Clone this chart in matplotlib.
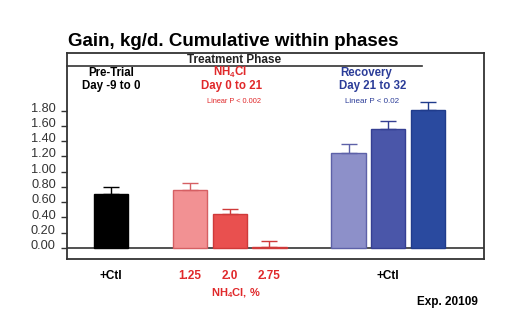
import matplotlib
matplotlib.use("Agg")
import matplotlib.pyplot as plt
from matplotlib.transforms import ScaledTranslation

plt.rcParams["font.family"] = ["Liberation Sans", "DejaVu Sans"]
plt.rcParams["mathtext.fontset"] = "custom"
plt.rcParams["mathtext.rm"] = "Liberation Sans:bold"
plt.rcParams["mathtext.bf"] = "Liberation Sans:bold"

# ── Data ──────────────────────────────────────────────────────────────────────
treatments = ["+Ctl", "1.25", "2.0", "2.75", "R1", "R2", "R3"]
gain = [0.71, 0.76, 0.44, 0.01, 1.24, 1.56, 1.81]
sem = [0.09, 0.09, 0.07, 0.08, 0.12, 0.10, 0.10]
slot = [0, 2, 3, 4, 6, 7, 8]          # bar slots, gaps between phases
yticks = [0.0, 0.2, 0.4, 0.6, 0.8, 1.0, 1.2, 1.4, 1.6, 1.8]
xlabels = ["+Ctl", "1.25", "2.0", "2.75", "+Ctl"]
xlabel_slot = [0, 2, 3, 4, 7]

# ── Colours ───────────────────────────────────────────────────────────────────
RED = "#e0282a"
BLUE = "#2b3c98"
fills = ["#000000", "#f29193", "#e9504f", "#e9504f", "#8d90c9", "#4a56a9", "#2a4a9f"]
edges = ["#000000", "#d65f63", "#cf3a3a", "#cf3a3a", "#5d61a8", "#353f93", "#203c8c"]
xlabel_colors = ["black", RED, RED, RED, "black"]

fig = plt.figure(figsize=(5.2, 3.34), dpi=100)
ax = fig.add_axes([0.1288, 0.2246, 0.802, 0.6167])

for x, g, e, fc, ec in zip(slot, gain, sem, fills, edges):
    ax.bar(x, g, width=0.87, color=fc, edgecolor=ec, linewidth=1.0, zorder=3)
    ax.errorbar(x, g, yerr=[[0], [e]], fmt="none", ecolor=ec, elinewidth=1.0,
                capsize=6, capthick=1.0, zorder=4)

ax.axhline(0, color="#333333", lw=1.2, zorder=2)
ax.set_xlim(-1.11, 9.42)
ax.set_ylim(-0.144, 2.556)

ax.set_yticks(yticks)
ax.set_yticklabels([f"{v:.2f}" for v in yticks], fontsize=9.2, color="#333333")
ax.tick_params(axis="y", length=4, width=1.0, color="#333333", pad=4)
up = ScaledTranslation(0, 2.5 / 72, fig.dpi_scale_trans)
for lbl in ax.get_yticklabels():
    lbl.set_transform(lbl.get_transform() + up)
ax.set_xticks(xlabel_slot)
ax.set_xticklabels(xlabels, fontsize=8.5, fontweight="bold")
for lbl, c in zip(ax.get_xticklabels(), xlabel_colors):
    lbl.set_color(c)
ax.tick_params(axis="x", length=0, pad=8)
for s in ax.spines.values():
    s.set_color("#333333")
    s.set_linewidth(1.3)

# ── Headers inside frame ──────────────────────────────────────────────────────
ax.text(3.1, 2.46, "Treatment Phase", ha="center", va="center", fontsize=8.5,
        fontweight="bold", color="#222222")
ax.plot([-1.11, 7.85], [2.39, 2.39], color="#333333", lw=1.2, clip_on=False)
ax.text(0, 2.29, "Pre-Trial", ha="center", va="center", fontsize=8.3, fontweight="bold")
ax.text(0, 2.13, "Day -9 to 0", ha="center", va="center", fontsize=8.3, fontweight="bold")
ax.text(3.0, 2.30, r"NH$_4$Cl", ha="center", va="center", fontsize=8.3,
        fontweight="bold", color=RED)
ax.text(3.05, 2.13, "Day 0 to 21", ha="center", va="center", fontsize=8.3,
        fontweight="bold", color=RED)
ax.text(3.1, 1.92, "Linear P < 0.002", ha="center", va="center", fontsize=5.3, color=RED)
ax.text(6.45, 2.29, "Recovery", ha="center", va="center", fontsize=8.3,
        fontweight="bold", color=BLUE)
ax.text(6.6, 2.13, "Day 21 to 32", ha="center", va="center", fontsize=8.3,
        fontweight="bold", color=BLUE)
ax.text(6.6, 1.92, "Linear P < 0.02", ha="center", va="center", fontsize=5.8, color=BLUE)

# ── Outside texts ─────────────────────────────────────────────────────────────
fig.text(68 / 520, 1 - 42 / 334, "Gain, kg/d. Cumulative within phases",
         ha="left", va="center", fontsize=13.5, fontweight="bold")
fig.text(236 / 520, 1 - 293 / 334, r"NH$_4$Cl, %", ha="center", va="center",
         fontsize=8, fontweight="bold", color=RED)
fig.text(447 / 520, 1 - 302 / 334, "Exp. 20109", ha="center", va="center",
         fontsize=8.5, fontweight="bold")

fig.savefig("out.png", dpi=100)
